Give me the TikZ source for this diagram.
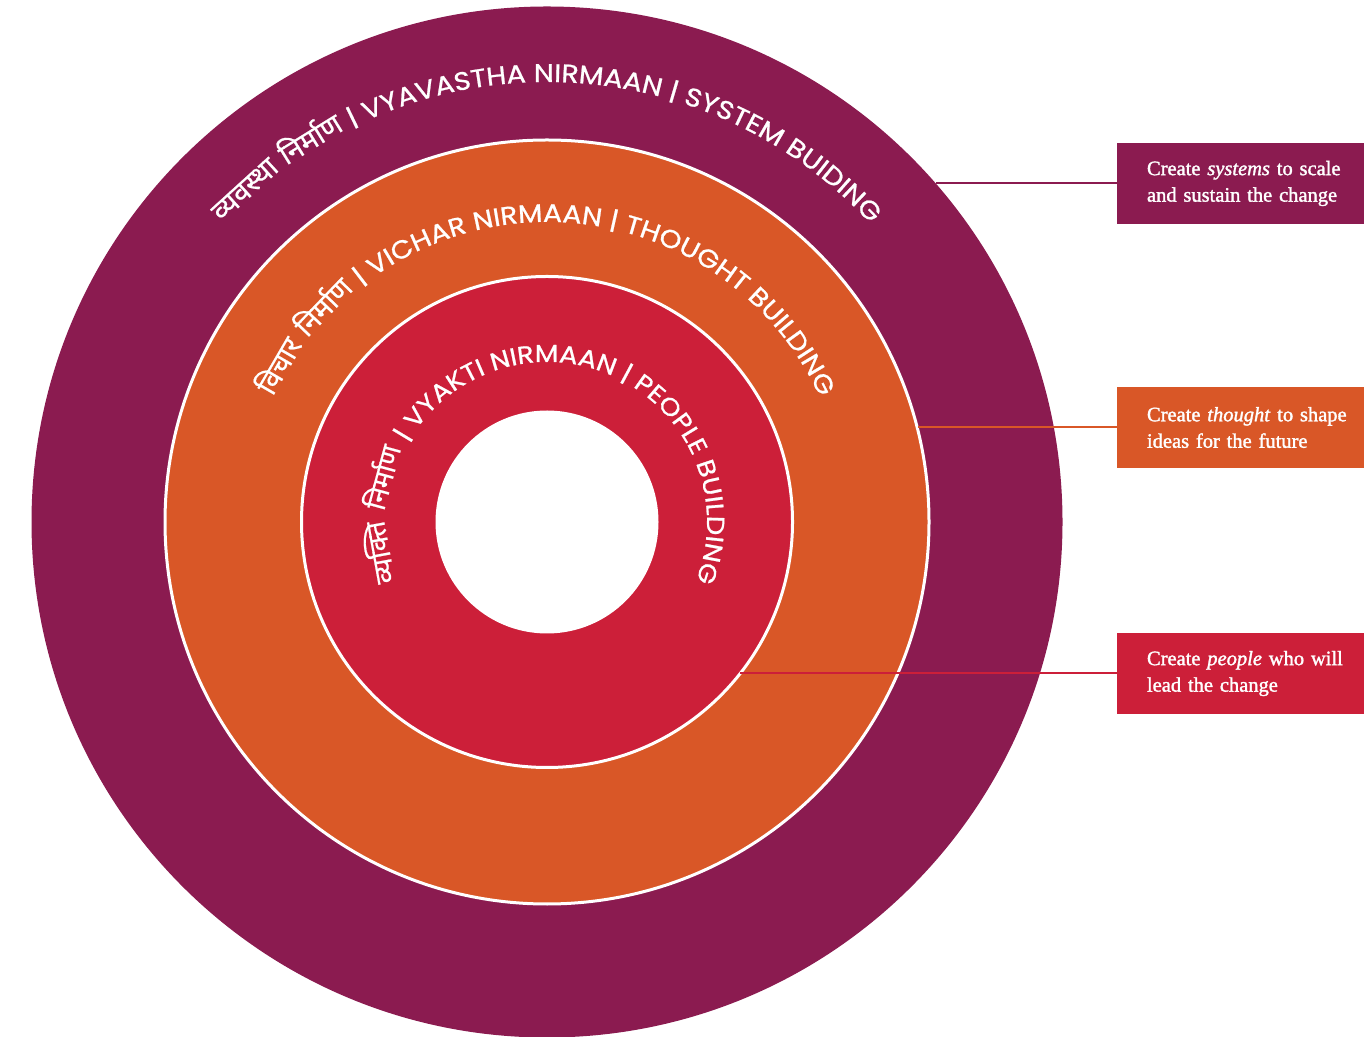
\documentclass[tikz,border=0pt]{standalone}
\usepackage{fontspec}
\setmainfont{Liberation Serif}[FakeBold=1.6]
\newfontfamily\labfont{Poppins}[FakeBold=0.9,FakeStretch=1.12]
\newfontfamily\devfont[Script=Devanagari,Scale=1.12,FakeBold=0.6]{Noto Sans}
\usetikzlibrary{decorations.text}
\definecolor{sysc}{HTML}{8B1B50}
\definecolor{thoc}{HTML}{D95727}
\definecolor{peoc}{HTML}{CC1F39}
\begin{document}
\begin{tikzpicture}[x=1pt,y=1pt,
  ring/.style={circle, inner sep=0pt, outer sep=0pt},
  infobox/.style={rectangle, inner xsep=30pt, inner ysep=0pt, text width=217pt,
    minimum height=81pt, align=left, text=white, font=\fontsize{20.5}{26.5}\selectfont},
  link/.style={line width=2pt},
  ringtext/.style={decorate, decoration={text along path, text format delimiters={[}{]},
    text align=center, text color=white, text={#1}}}]
\useasboundingbox (0,0) rectangle (1364,1036);
\node[ring, fill=sysc, minimum size=1031pt] (outer) at (547,514) {};
\node[ring, fill=thoc, draw=white, line width=3pt, minimum size=764pt] (mid) at (547,514) {};
\node[ring, fill=peoc, draw=white, line width=3pt, minimum size=491pt] (inner) at (547,514) {};
\node[ring, fill=white, minimum size=223pt] (core) at (547,514) {};

\path[ringtext={[\labfont\fontsize{25.5}{25.5}\selectfont]{\devfont व्यवस्था} {\devfont निर्माण} | VYAVASTHA NIRMAAN | SYSTEM BUIDING}]
  ([shift={(547,514)}]175:440) arc[start angle=175, end angle=5, radius=440];
\path[ringtext={[\labfont\fontsize{25.3}{25.3}\selectfont]{\devfont विचार} {\devfont निर्माण} | VICHAR NIRMAAN | THOUGHT BUILDING}]
  ([shift={(547,514)}]200:300) arc[start angle=200, end angle=-20, radius=300];
\path[ringtext={[\labfont\fontsize{24.5}{24.5}\selectfont]{\devfont व्यक्ति} {\devfont निर्माण} | VYAKTI NIRMAAN | PEOPLE BUILDING}]
  ([shift={(547,514)}]250:160) arc[start angle=250, end angle=-70, radius=160];

\node[infobox, fill=sysc] (sysbox) at (1255.5,852.5) {Create \textit{systems} to scale\\and sustain the change};
\node[infobox, fill=thoc] (thobox) at (1255.5,608.5) {Create \textit{thought} to shape\\ideas for the future};
\node[infobox, fill=peoc] (peobox) at (1255.5,362.5) {Create \textit{people} who will\\lead the change};

\draw[link, sysc] (sysbox.west) -- (outer.41.1 |- sysbox.west);
\draw[link, thoc] (thobox.west) -- (mid.14.3 |- thobox.west);
\draw[link, peoc] (peobox.west) -- (inner.-38.3 |- peobox.west);
\end{tikzpicture}
\end{document}
